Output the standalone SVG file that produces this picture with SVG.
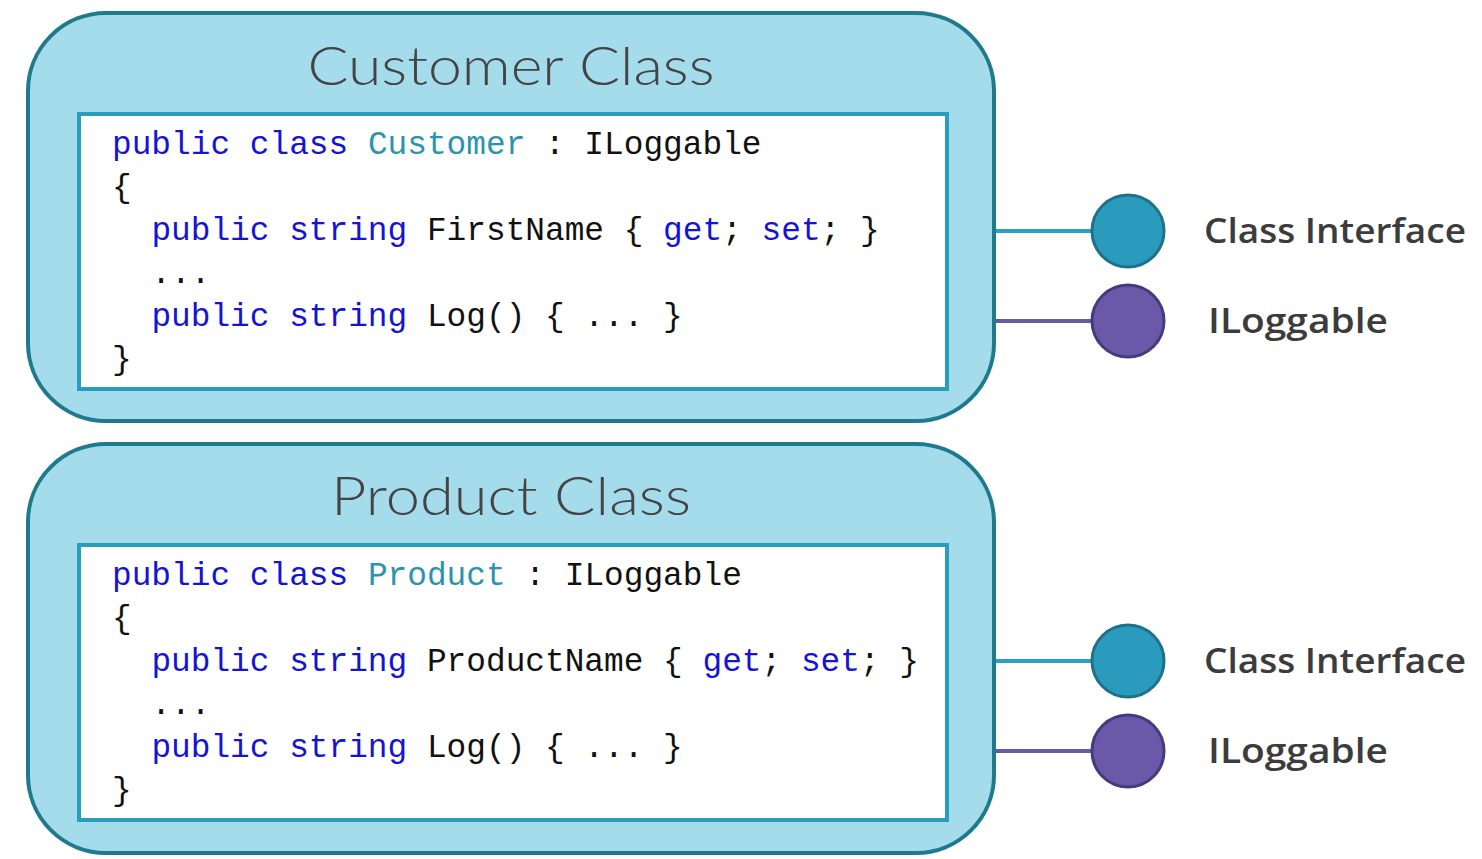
<svg xmlns="http://www.w3.org/2000/svg" width="1482" height="859" viewBox="0 0 1482 859">
<style>
.outer{fill:#a4dcec;stroke:#1f7a8e;stroke-width:4}
.inner{fill:#ffffff;stroke:#2a9dbf;stroke-width:4}
.title{font-family:Lato,"Open Sans","Liberation Sans",sans-serif;font-weight:300;font-size:54px;fill:#444444}
.code{font-family:"Liberation Mono","DejaVu Sans Mono",monospace;font-size:32.8px;fill:#111111}
.kw{fill:#1414d2}
.ty{fill:#2b93b0}
.lbl{font-family:"Open Sans",Lato,"Liberation Sans",sans-serif;font-weight:600;font-size:34px;fill:#3c3c3c}
.ci{fill:#2b9bbd;stroke:#1f7189;stroke-width:3}
.il{fill:#6a58a8;stroke:#48397c;stroke-width:3}
.lci{stroke:#2ba0c0;stroke-width:4}
.lil{stroke:#6a58a8;stroke-width:4}
</style>
<rect width="1482" height="859" fill="#ffffff"/>
<g id="connectors">
<line class="lci" x1="994" y1="231" x2="1092" y2="231"/>
<line class="lil" x1="994" y1="321" x2="1092" y2="321"/>
<line class="lci" x1="994" y1="661" x2="1092" y2="661"/>
<line class="lil" x1="994" y1="751" x2="1092" y2="751"/>
</g>
<g id="customer-class">
<rect class="outer" x="28" y="13" width="966" height="408" rx="78" ry="78"/>
<text class="title" x="511" y="85" text-anchor="middle" textLength="407" lengthAdjust="spacingAndGlyphs">Customer Class</text>
<rect class="inner" x="79" y="114" width="868" height="275"/>
<text class="code" xml:space="preserve"><tspan x="112" y="154"><tspan class="kw">public class</tspan> <tspan class="ty">Customer</tspan> : ILoggable</tspan><tspan x="112" y="197">{</tspan><tspan x="112" y="240">  <tspan class="kw">public string</tspan> FirstName { <tspan class="kw">get</tspan>; <tspan class="kw">set</tspan>; }</tspan><tspan x="112" y="283">  ...</tspan><tspan x="112" y="326">  <tspan class="kw">public string</tspan> Log() { ... }</tspan><tspan x="112" y="369">}</tspan></text>
</g>
<g id="product-class">
<rect class="outer" x="28" y="444" width="966" height="409" rx="78" ry="78"/>
<text class="title" x="511" y="515" text-anchor="middle" textLength="360" lengthAdjust="spacingAndGlyphs">Product Class</text>
<rect class="inner" x="79" y="545" width="868" height="275"/>
<text class="code" xml:space="preserve"><tspan x="112" y="585"><tspan class="kw">public class</tspan> <tspan class="ty">Product</tspan> : ILoggable</tspan><tspan x="112" y="628">{</tspan><tspan x="112" y="671">  <tspan class="kw">public string</tspan> ProductName { <tspan class="kw">get</tspan>; <tspan class="kw">set</tspan>; }</tspan><tspan x="112" y="714">  ...</tspan><tspan x="112" y="757">  <tspan class="kw">public string</tspan> Log() { ... }</tspan><tspan x="112" y="800">}</tspan></text>
</g>
<g id="customer-class-interface">
<circle class="ci" cx="1128" cy="231" r="36"/>
<text class="lbl" x="1204" y="243" textLength="262" lengthAdjust="spacingAndGlyphs">Class Interface</text>
</g>
<g id="customer-iloggable">
<circle class="il" cx="1128" cy="321" r="36"/>
<text class="lbl" x="1208" y="333" textLength="180" lengthAdjust="spacingAndGlyphs">ILoggable</text>
</g>
<g id="product-class-interface">
<circle class="ci" cx="1128" cy="661" r="36"/>
<text class="lbl" x="1204" y="673" textLength="262" lengthAdjust="spacingAndGlyphs">Class Interface</text>
</g>
<g id="product-iloggable">
<circle class="il" cx="1128" cy="751" r="36"/>
<text class="lbl" x="1208" y="763" textLength="180" lengthAdjust="spacingAndGlyphs">ILoggable</text>
</g>
</svg>
